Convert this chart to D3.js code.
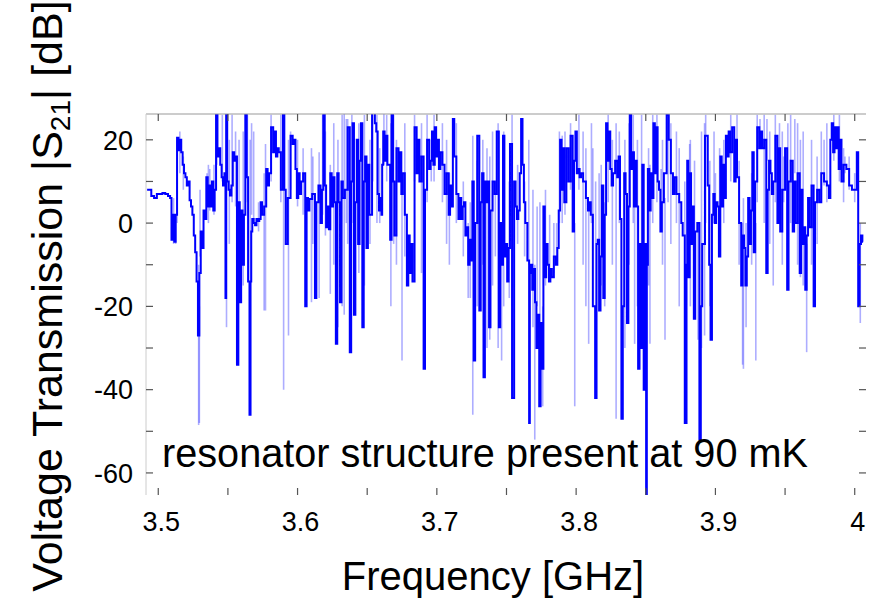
<html>
<head>
    <title>Voltage Transmission</title>
    <script type="text/javascript" src="https://cdn.jsdelivr.net/npm/d3@7/dist/d3.min.js"></script>
    <style>
        body { margin: 0; background: white; }
        text { font-family: "Liberation Sans", Arial, sans-serif; fill: black; }
    </style>
</head>
<body>
    <div id="chart"></div>
    <script>
        // frequency [GHz], |S21| [dB] -- the dense sweep
        var darkTrace = [
            [3.492, 8], [3.494, 8], [3.496, 6.5], [3.498, 6], [3.500, 7], [3.502, 7], [3.504, 7.2], [3.506, 7], [3.508, 6.5], [3.509, 6],
            [3.510, -4], [3.511, 2], [3.512, -4.5], [3.513, 2], [3.514, 20.5], [3.515, 17.5], [3.516, 20], [3.517, 17], [3.518, 14], [3.519, 12],
            [3.520, 11], [3.521, 9], [3.522, 10], [3.523, 5.5], [3.524, 4], [3.525, 2], [3.526, -3], [3.527, -7], [3.528, -14], [3.529, -27],
            [3.530, -12], [3.531, -2], [3.532, -6], [3.533, 3], [3.534, 1], [3.535, 11], [3.536, 4], [3.537, 9], [3.538, 4], [3.539, 10],
            [3.540, 3], [3.541, 8], [3.542, 28], [3.543, 16], [3.544, 18], [3.545, 14], [3.546, 11], [3.547, 9], [3.548, 12], [3.5485, -18],
            [3.549, 28], [3.550, 10], [3.551, 8], [3.552, 6.6], [3.553, 9], [3.554, 17], [3.555, 15], [3.556, 16], [3.557, -34], [3.558, 5],
            [3.559, -19], [3.560, 3], [3.561, -10], [3.562, 2], [3.563, 28], [3.564, 11], [3.565, -14], [3.566, -46], [3.5665, -14], [3.567, -2],
            [3.568, 1], [3.569, 0], [3.570, -0.5], [3.571, 1], [3.572, 0.5], [3.573, 1], [3.574, 5], [3.575, 2], [3.577, 4], [3.578, 13],
            [3.579, 9], [3.580, 12], [3.582, 23], [3.583, 17], [3.584, 22], [3.585, 16], [3.586, 18], [3.587, 17], [3.589, 8], [3.590, 28],
            [3.591, 8], [3.592, -5], [3.594, 6], [3.596, 21], [3.597, 19], [3.598, 20], [3.599, 13], [3.600, 6], [3.601, 12], [3.602, 7],
            [3.603, 10], [3.605, 12], [3.606, -20], [3.607, 6], [3.608, 3], [3.609, 5.8], [3.612, 7], [3.613, -18], [3.614, 5], [3.616, 9],
            [3.617, 0], [3.618, 8], [3.619, 28], [3.620, 9], [3.621, -1], [3.622, 4], [3.623, -1.5], [3.624, 12], [3.625, 4], [3.626, 11],
            [3.627, 5], [3.628, -29], [3.629, 12], [3.630, 5], [3.631, -19], [3.632, 10], [3.633, 6], [3.635, 8], [3.637, 23], [3.638, -31],
            [3.639, 10], [3.640, 24], [3.641, -22], [3.642, 5], [3.643, 20], [3.644, -5], [3.645, 15], [3.646, 24], [3.647, -25], [3.648, 10],
            [3.649, 16], [3.650, -6], [3.651, 14], [3.652, 2], [3.655, 28], [3.656, 24], [3.657, 22], [3.658, 7], [3.659, 3], [3.660, 6],
            [3.6605, 2], [3.661, 14], [3.662, 22], [3.663, 15], [3.664, 21], [3.665, 14], [3.666, 14], [3.667, -4], [3.668, 28], [3.669, 10],
            [3.670, -3], [3.672, 18], [3.673, 10], [3.674, 17], [3.675, 7], [3.676, 12], [3.678, 2], [3.679, -15], [3.680, -3], [3.681, -12],
            [3.682, -5], [3.683, -14], [3.685, 23], [3.686, 12], [3.687, 20], [3.688, 10], [3.690, 16], [3.691, -35], [3.692, 8], [3.694, 20],
            [3.695, 13], [3.696, 15], [3.697, 22], [3.698, 14], [3.699, 23], [3.700, 16], [3.701, 20], [3.702, 13], [3.703, 17], [3.705, 14],
            [3.706, 7], [3.708, 12], [3.709, 2], [3.710, 9], [3.711, 4], [3.712, 25], [3.713, 16], [3.715, 7], [3.716, 1], [3.717, 6],
            [3.718, 1], [3.719, 4], [3.720, 5], [3.721, -3], [3.722, -1], [3.723, -10], [3.724, -4], [3.725, -9], [3.726, 10], [3.727, -33],
            [3.728, 0], [3.730, 21], [3.731, -21], [3.732, 5], [3.733, 12], [3.734, -37], [3.735, 10], [3.736, 5], [3.737, 10], [3.738, -25],
            [3.739, 3], [3.741, 10], [3.742, 7], [3.744, 22], [3.745, -25], [3.746, 0], [3.747, -10], [3.748, 21], [3.749, -8], [3.750, -5],
            [3.751, -14], [3.752, -6], [3.753, 19], [3.755, -42], [3.756, 10], [3.757, 4], [3.758, 1], [3.759, 3], [3.760, 12], [3.761, 25],
            [3.762, 14], [3.763, 5], [3.764, 0], [3.766, -9], [3.7665, -48], [3.767, -12], [3.768, -10], [3.769, -16], [3.770, -11], [3.771, -19],
            [3.772, -30], [3.773, -22], [3.774, -44], [3.775, -24], [3.776, -35], [3.777, 4], [3.778, -13], [3.779, -5], [3.780, -10], [3.781, -14],
            [3.782, -11], [3.783, -13], [3.785, -8], [3.786, -10], [3.787, -6], [3.788, 3], [3.789, 20], [3.790, 8], [3.791, 18], [3.792, 5],
            [3.794, 18], [3.795, 10], [3.797, 21], [3.798, -2], [3.799, 15], [3.800, 22], [3.801, 12], [3.802, 13], [3.803, 11], [3.804, 12],
            [3.806, 10], [3.808, 6], [3.809, 3], [3.810, 5], [3.811, 2], [3.813, -20], [3.8143, -42], [3.815, -5], [3.816, -4], [3.817, -21],
            [3.818, -8], [3.819, 9], [3.820, -18], [3.821, 2], [3.822, 24], [3.823, 15], [3.824, 22], [3.825, 13], [3.826, 9], [3.827, 12],
            [3.829, 15], [3.830, 11], [3.831, 16], [3.832, 1], [3.833, -47], [3.834, -20], [3.835, 12], [3.836, 7], [3.837, -24], [3.838, 4],
            [3.839, 28], [3.840, 13], [3.841, 17], [3.842, 4], [3.843, 15], [3.844, 4], [3.845, -35], [3.846, -5], [3.847, -30], [3.848, 14],
            [3.849, -40], [3.850, -5], [3.8505, -66], [3.851, -10], [3.852, 13], [3.853, 3], [3.854, 12], [3.855, 6], [3.856, 24], [3.857, 12],
            [3.858, 23], [3.859, 10], [3.860, 8], [3.861, -2], [3.862, 5], [3.864, 12], [3.866, 26], [3.867, 20], [3.869, 12], [3.870, 7],
            [3.871, 11], [3.873, 7], [3.875, 5], [3.876, 0], [3.877, -3], [3.879, -48], [3.8795, -10], [3.880, 15], [3.881, -13], [3.882, 12],
            [3.883, -5], [3.884, 4], [3.885, -23], [3.886, -2], [3.888, 0], [3.889, -52], [3.890, -20], [3.891, -5], [3.894, 21], [3.895, 9],
            [3.896, -10], [3.897, -28], [3.898, 2], [3.899, 7], [3.900, 0], [3.901, 5], [3.902, 4], [3.903, -8], [3.904, 16], [3.905, 4],
            [3.906, 14], [3.907, 6], [3.908, 21], [3.909, 16], [3.910, 22], [3.911, 17], [3.913, 23], [3.914, 10], [3.915, 20], [3.916, 11],
            [3.918, 0], [3.919, -15], [3.920, -3], [3.921, -6], [3.922, -15], [3.923, -8], [3.924, 6], [3.925, -5], [3.926, 3], [3.927, 17],
            [3.928, -7], [3.929, 10], [3.931, 23], [3.932, 18], [3.933, 22], [3.934, 18], [3.936, 20], [3.937, -12], [3.938, 8], [3.939, 15],
            [3.940, 12], [3.941, 7], [3.942, 10], [3.944, 21], [3.945, 0], [3.946, 18], [3.947, -2], [3.949, 8], [3.951, 18], [3.952, -16],
            [3.953, 10], [3.955, 15], [3.956, -2], [3.957, 10], [3.958, 0], [3.960, 12], [3.961, -12], [3.962, 8], [3.963, -5], [3.964, -1],
            [3.965, -16], [3.966, -3], [3.967, 6], [3.968, -1], [3.970, 9], [3.971, -20], [3.972, 5], [3.974, 8], [3.975, 5], [3.977, 12],
            [3.979, 10], [3.981, 9], [3.982, 6], [3.983, 20], [3.984, 24], [3.985, 17], [3.986, 23], [3.987, 18], [3.988, 23], [3.989, 13],
            [3.990, 20], [3.991, 10], [3.993, 14], [3.995, 13], [3.997, 9], [3.999, 8], [4.001, 8], [4.002, 17], [4.003, -20], [4.004, -5],
            [4.005, -3], [4.006, -4.5]
        ];

        // faint sweeps between the samples: [frequency, high dB, low dB]
        var faintSweeps = [
            [3.511, 6, -5], [3.5125, 2, -5], [3.5135, 20, 0], [3.5155, 22, 12], [3.518, 16, 8], [3.529, -10, -48.5],
            [3.5295, -20, -48], [3.530, 8, -8], [3.535, 12, 4], [3.536, 14, 0], [3.537, 13, 3], [3.540, 14, 2],
            [3.542, 27, 14], [3.546, 26, 10], [3.549, 10, -25], [3.551, 20, -5], [3.553, 26, 5], [3.5555, 22, 4],
            [3.558, 20, -10], [3.561, 22, -15], [3.564, 26, 5], [3.566, 20, -20], [3.567, 24, 2], [3.5685, 22, 0],
            [3.572, 5, -2], [3.576, 12, -21], [3.577, 19, -21], [3.581, 26, 10], [3.588, 26, 5], [3.590, 27, -40],
            [3.5935, 20, -27], [3.595, 22, 8], [3.600, 20, 4], [3.604, 18, 2], [3.610, 18, -19], [3.611, 16, -5],
            [3.6155, 17, -18], [3.618, 26, 2], [3.620, 22, -3], [3.6235, 14, -17], [3.626, 24, -10], [3.629, 20, -25],
            [3.632, 26, -20], [3.6335, 27, -22], [3.635, 25, 0], [3.636, 25, -5], [3.639, 26, 0], [3.644, 24, -12],
            [3.648, 26, -15], [3.652, 20, -5], [3.654, 26, 10], [3.657, 26, 0], [3.659, 18, 0], [3.662, 27, 14],
            [3.664, 26, 10], [3.667, 24, -20], [3.669, 26, -5], [3.671, 20, -10], [3.675, 10, -33], [3.677, 24, -8],
            [3.684, 26, 10], [3.689, 24, -12], [3.693, 26, 5], [3.696, 20, 10], [3.698, 26, 10], [3.704, 24, 5],
            [3.707, 20, -5], [3.709, 12, -10], [3.714, 24, 0], [3.719, 10, -8], [3.7225, 0, -18], [3.724, 5, -18],
            [3.7258, 21, -46], [3.729, 15, -20], [3.733, 20, -10], [3.736, 18, -30], [3.738, 16, -28], [3.740, 22, -15],
            [3.742, 10, -8], [3.744, 24, -30], [3.7465, 0, -33], [3.748, 22, -20], [3.752, 10, -18], [3.754, 26, -20],
            [3.758, 14, -5], [3.763, 10, -8], [3.766, 20, -10], [3.769, 8, -25], [3.7703, -10, -52], [3.772, 4, -20],
            [3.774, 5, -30], [3.776, -20, -44], [3.778, 8, -15], [3.781, 2, -12], [3.784, 0, -12], [3.786, 0, -8],
            [3.788, 22, 0], [3.790, 21, 0], [3.792, 22, 2], [3.796, 24, 8], [3.799, 0, -44], [3.802, 26, 8],
            [3.805, 22, -10], [3.807, 18, -20], [3.809, 5, -29], [3.811, 24, 0], [3.812, 18, 0], [3.814, 10, -35],
            [3.8165, 12, -4], [3.818, 14, -15], [3.8205, 5, -20], [3.823, 26, 5], [3.826, 20, -10], [3.8287, 24, -47],
            [3.831, 22, 0], [3.835, 20, -30], [3.838, 24, -10], [3.841, 26, 0], [3.842, 4, -29], [3.844, 20, -20],
            [3.847, 26, -30], [3.852, 18, -15], [3.853, 14, -29], [3.855, 26, 0], [3.858, 26, 5], [3.861, 13, -2],
            [3.862, 20, -10], [3.8638, 6, -28], [3.866, 26, 5], [3.868, 24, -5], [3.872, 22, 0], [3.874, 18, -20],
            [3.878, 10, -30], [3.8815, 19, 5], [3.882, 20, -20], [3.885, 15, -15], [3.8875, 0, -28], [3.890, 22, -30],
            [3.8922, 24, -27], [3.893, 26, 0], [3.896, 15, -20], [3.899, 22, 0], [3.900, 12, 0], [3.903, 18, -5],
            [3.906, 20, 0], [3.911, 26, 10], [3.9155, 26, 12], [3.917, 15, -10], [3.9195, 0, -34], [3.9201, 6, -35],
            [3.922, 0, -25], [3.926, 12, -10], [3.929, 0, -33], [3.930, 26, 5], [3.932, 25, 18], [3.935, 26, 0],
            [3.937, 25, 15], [3.939, 22, -5], [3.9415, 7, -15], [3.943, 26, 5], [3.946, 24, 18], [3.948, 22, -10],
            [3.949, 16, 5], [3.952, 24, 10], [3.954, 26, 0], [3.957, 25, 12], [3.959, 24, -10], [3.961, 20, -13],
            [3.963, 22, -15], [3.9655, -5, -31], [3.969, 20, -10], [3.973, 16, -5], [3.976, 22, 5], [3.978, 20, 9],
            [3.980, 24, 5], [3.985, 26, 15], [3.989, 26, 10], [3.992, 18, 5], [3.993, 16, 12], [3.996, 16, 8],
            [4.000, 12, 5], [4.004, 0, -24]
        ];

        var xTicks = [3.5, 3.55, 3.6, 3.65, 3.7, 3.75, 3.8, 3.85, 3.9, 3.95, 4.0];
        var xTickLabels = ["3.5", "", "3.6", "", "3.7", "", "3.8", "", "3.9", "", "4"];
        var yTicks = [20, 10, 0, -10, -20, -30, -40, -50, -60];
        var yTickLabels = ["20", "", "0", "", "-20", "", "-40", "", "-60"];

        var width = 872, height = 598;
        var margin = {left: 146, right: 6, top: 114, bottom: 103};
        var plot_w = width - margin.left - margin.right;
        var plot_h = height - margin.top - margin.bottom;

        var svg = d3.select("#chart").append("svg")
                    .attr("width", width)
                    .attr("height", height);

        var x = d3.scaleLinear().domain([3.4912, 4.0081]).range([0, plot_w]);
        var y = d3.scaleLinear().domain([-65.3, 26.2]).range([plot_h, 0]);

        var g = svg.append("g").attr("transform", "translate(" + margin.left + "," + margin.top + ")");

        g.append("clipPath").attr("id", "plot-clip")
            .append("rect").attr("x", 0).attr("y", 0).attr("width", plot_w).attr("height", plot_h);

        var data_g = g.append("g").attr("clip-path", "url(#plot-clip)");

        // light sweeps first, underneath
        data_g.selectAll(".faint").data(faintSweeps).enter().append("line")
            .attr("class", "faint")
            .attr("x1", function(d){ return x(d[0]); })
            .attr("x2", function(d){ return x(d[0]); })
            .attr("y1", function(d){ return y(d[1]); })
            .attr("y2", function(d){ return y(d[2]); })
            .attr("stroke", "#0000ff")
            .attr("stroke-opacity", 0.32)
            .attr("stroke-width", 1.6);

        // step curve: each sample becomes a vertical stroke, like the pixel-column rendering
        var line = d3.line()
            .curve(d3.curveStep)
            .x(function(d){ return x(d[0]); })
            .y(function(d){ return y(d[1]); });

        data_g.append("path")
            .datum(darkTrace)
            .attr("d", line)
            .attr("fill", "none")
            .attr("stroke", "#0000ff")
            .attr("stroke-width", 2)
            .attr("stroke-linejoin", "miter");

        // frame: gray top and left lines only
        g.append("line").attr("x1", 0).attr("x2", plot_w).attr("y1", 0).attr("y2", 0)
            .attr("stroke", "#999").attr("stroke-width", 1.2);
        g.append("line").attr("x1", 0).attr("x2", 0).attr("y1", 0).attr("y2", plot_h)
            .attr("stroke", "#ccc").attr("stroke-width", 1);

        // ticks pointing inwards on all four sides
        var tick_len = 7;
        xTicks.forEach(function(t){
            g.append("line").attr("x1", x(t)).attr("x2", x(t)).attr("y1", plot_h).attr("y2", plot_h - tick_len)
                .attr("stroke", "#555").attr("stroke-width", 1.2);
            g.append("line").attr("x1", x(t)).attr("x2", x(t)).attr("y1", 0).attr("y2", tick_len)
                .attr("stroke", "#555").attr("stroke-width", 1.2);
        });
        yTicks.forEach(function(t){
            g.append("line").attr("x1", 0).attr("x2", tick_len).attr("y1", y(t)).attr("y2", y(t))
                .attr("stroke", "#555").attr("stroke-width", 1.2);
            g.append("line").attr("x1", plot_w).attr("x2", plot_w - tick_len).attr("y1", y(t)).attr("y2", y(t))
                .attr("stroke", "#555").attr("stroke-width", 1.2);
        });

        g.selectAll(".xlab").data(xTicks).enter().append("text")
            .attr("class", "xlab")
            .attr("x", function(d){ return x(d) + 3; })
            .attr("y", plot_h + 36)
            .attr("text-anchor", "middle")
            .attr("font-size", 27)
            .text(function(d, i){ return xTickLabels[i]; });

        g.selectAll(".ylab").data(yTicks).enter().append("text")
            .attr("class", "ylab")
            .attr("x", -13)
            .attr("y", function(d){ return y(d); })
            .attr("dy", "0.36em")
            .attr("text-anchor", "end")
            .attr("font-size", 27)
            .text(function(d, i){ return yTickLabels[i]; });

        svg.append("text")
            .attr("x", 162)
            .attr("y", 467)
            .attr("font-size", 40)
            .attr("textLength", 646)
            .attr("lengthAdjust", "spacingAndGlyphs")
            .text("resonator structure present at 90 mK");

        svg.append("text")
            .attr("x", 493)
            .attr("y", 590)
            .attr("text-anchor", "middle")
            .attr("font-size", 40)
            .text("Frequency [GHz]");

        var ylab = svg.append("text")
            .attr("transform", "translate(62,296) rotate(-90)")
            .attr("text-anchor", "middle")
            .attr("font-size", 43);
        ylab.append("tspan").text("Voltage Transmission |S");
        ylab.append("tspan").attr("font-size", 28).attr("dy", 8).text("21");
        ylab.append("tspan").attr("dy", -8).text("| [dB]");
    </script>
</body>
</html>
